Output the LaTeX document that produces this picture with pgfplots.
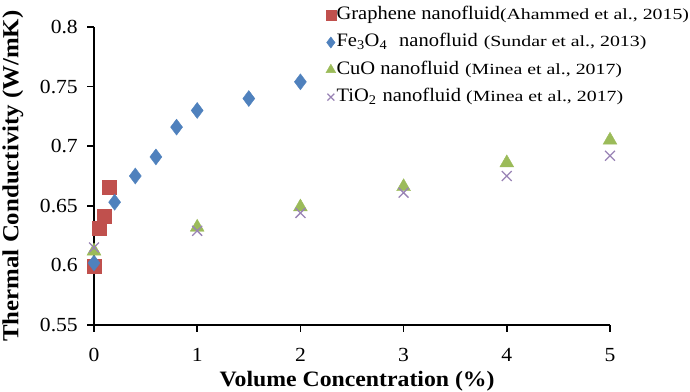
\documentclass[border=0pt]{standalone}
\usepackage{fontspec}
\setmainfont{Liberation Serif}[FakeStretch=1.08]
\newfontfamily\citefont{Liberation Serif}[FakeStretch=1.28]
\usepackage{pgfplots}
\pgfplotsset{compat=1.18}
\usepackage{graphicx}
\definecolor{cred}{HTML}{C0504D}
\definecolor{cblue}{HTML}{4F81BD}
\definecolor{cgreen}{HTML}{9BBB59}
\definecolor{cpurple}{HTML}{8064A2}
\newcommand{\cit}[1]{{\citefont\fontsize{15.5}{18}\selectfont #1}}
\begin{document}
\begin{tikzpicture}
\begin{axis}[
  scale only axis,
  width=516pt, height=298pt,
  xmin=0, xmax=5, ymin=0.55, ymax=0.8,
  xtick={0,1,2,3,4,5},
  ytick={0.55,0.6,0.65,0.7,0.75,0.8},
  yticklabels={0.55,0.6,0.65,0.7,0.75,0.8},
  axis x line=bottom, axis y line=left,
  axis line style={-, line width=1.8pt, black},
  tick align=outside,
  major tick length=6pt,
  major tick style={black, line width=1.5pt},
  clip=false,
  /pgf/number format/assume math mode=true,
  tick label style={font=\fontsize{20}{24}\selectfont},
  xticklabel style={anchor=base, inner sep=0pt, yshift=-30pt},
  yticklabel style={anchor=east, inner sep=0pt, xshift=-10pt},
  xlabel={\bfseries Volume Concentration (\%)},
  ylabel={\bfseries Thermal Conductivity (W/mK)},
  xlabel style={font=\fontsize{22}{26}\selectfont, at={(axis description cs:0.51,-0.2047)}, anchor=base},
  ylabel style={font=\fontsize{23}{27}\selectfont, at={(axis description cs:-0.157,0.5)}, anchor=center, rotate=0},
  legend cell align=left,
  legend style={draw=none, fill=none, inner sep=0pt, at={(axis description cs:0.4477,1.0688)}, anchor=north west,
    font=\fontsize{19}{22}\selectfont, row sep=10.3pt,
    nodes={inner sep=0pt, text height=13pt, text depth=4pt}},
  /tikz/every even column/.append style={column sep=2pt},
  legend image code/.code={\path (-5pt,0pt) (5pt,0pt); \draw[#1, mark options={scale=0.7}] plot coordinates {(0pt,0pt)};},
]
% tick marks
\pgfplotsinvokeforeach{0,1,2,3,4,5}{
  \addplot[black, line width=1.6pt, no marks, forget plot] coordinates {(#1,0.55) (#1,0.5441)};
}
\pgfplotsinvokeforeach{0.55,0.6,0.65,0.7,0.75,0.8}{
  \addplot[black, line width=1.6pt, no marks, forget plot] coordinates {(0,#1) (-0.068,#1)};
}
\addplot[only marks, mark=square*, mark size=7pt, color=cred] coordinates {
(0,0.599) (0.05,0.631) (0.1,0.641) (0.15,0.666)};
\addlegendentry{Graphene nanofluid\cit{(Ahammed et al., 2015)}}
\addplot[only marks, mark=diamond*, mark size=8pt, color=cblue] coordinates {
(0,0.602) (0.2,0.653) (0.4,0.675) (0.6,0.691) (0.8,0.716) (1.0,0.730) (1.5,0.740) (2.0,0.754)};
\addlegendentry{Fe\textsubscript{3}O\textsubscript{4}\hspace{12pt}nanofluid\hspace{6pt}\cit{(Sundar et al., 2013)}}
\addplot[only marks, mark=triangle*, mark size=8pt, color=cgreen] coordinates {
(0,0.612) (1,0.632) (2,0.649) (3,0.666) (4,0.686) (5,0.705)};
\addlegendentry{CuO nanofluid\hspace{6pt}\cit{(Minea et al., 2017)}}
\addplot[only marks, mark=x, mark size=7pt, line width=1.3pt, color=cpurple!80] coordinates {
(0,0.615) (1,0.629) (2,0.644) (3,0.661) (4,0.675) (5,0.692)};
\addlegendentry{TiO\textsubscript{2}\hspace{6pt}nanofluid\hspace{5pt}\cit{(Minea et al., 2017)}}
\end{axis}
\pgfresetboundingbox
\path (-94pt,-66pt) rectangle (596pt,325pt);
\end{tikzpicture}
\end{document}
